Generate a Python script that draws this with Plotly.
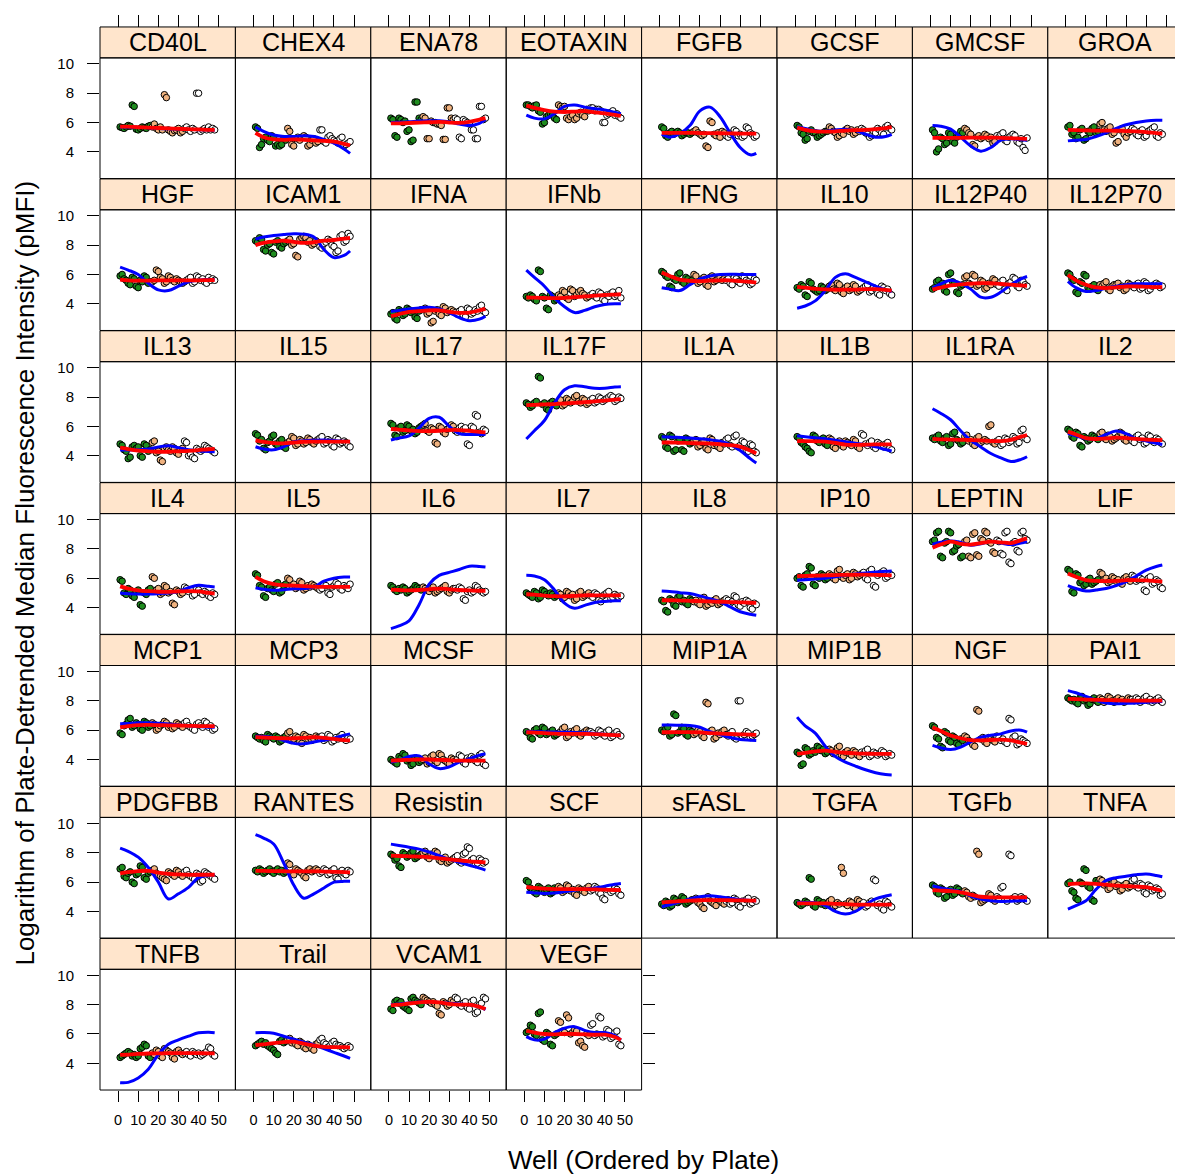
import plotly.graph_objects as go

analytes = ["CD40L", "CHEX4", "ENA78", "EOTAXIN", "FGFB", "GCSF", "GMCSF", "GROA",
            "HGF", "ICAM1", "IFNA", "IFNb", "IFNG", "IL10", "IL12P40", "IL12P70",
            "IL13", "IL15", "IL17", "IL17F", "IL1A", "IL1B", "IL1RA", "IL2",
            "IL4", "IL5", "IL6", "IL7", "IL8", "IP10", "LEPTIN", "LIF",
            "MCP1", "MCP3", "MCSF", "MIG", "MIP1A", "MIP1B", "NGF", "PAI1",
            "PDGFBB", "RANTES", "Resistin", "SCF", "sFASL", "TGFA", "TGFb", "TNFA",
            "TNFB", "Trail", "VCAM1", "VEGF"]

plate1_wells = [1, 2, 3, 4, 5, 6, 7, 8, 9, 10, 11, 12, 13, 14, 15, 16]
plate2_wells = [17, 18, 19, 20, 21, 22, 23, 24, 25, 26, 27, 28, 29, 30, 31, 32]
plate3_wells = [33, 34, 35, 36, 37, 38, 39, 40, 41, 42, 43, 44, 45, 46, 47, 48]

plate1_pmfi = [
    [5.7, 5.65, 5.6, 5.7, 5.8, 5.75, 7.2, 7.1, 5.55, 5.5, 5.6, 5.7, 5.65, 5.6, 5.75, 5.8],
    [5.7, 5.6, 4.3, 4.5, 4.9, 5.0, 4.8, 4.7, 5.1, 5.0, 4.4, 4.5, 4.4, 4.5, 4.9, 4.8],
    [6.3, 6.2, 5.1, 5.0, 6.3, 6.2, 6.0, 6.1, 5.4, 5.5, 4.7, 4.8, 7.4, 7.4, 6.3, 6.2],
    [7.2, 7.2, 7.1, 7.0, 7.15, 7.2, 6.8, 6.7, 5.9, 6.0, 6.4, 6.5, 6.6, 6.5, 6.3, 6.2],
    [5.7, 5.6, 5.1, 5.0, 5.3, 5.4, 5.2, 5.3, 5.4, 5.3, 5.1, 5.2, 5.3, 5.3, 5.2, 5.3],
    [5.8, 5.7, 5.3, 5.2, 4.8, 4.9, 5.4, 5.5, 5.3, 5.3, 5.0, 5.1, 5.2, 5.3, 5.4, 5.4],
    [5.5, 5.3, 4.0, 4.2, 5.0, 4.9, 4.5, 4.6, 5.3, 5.2, 4.7, 4.6, 5.0, 5.1, 5.4, 5.3],
    [5.7, 5.8, 5.2, 5.3, 4.9, 5.0, 5.5, 5.6, 4.8, 4.9, 5.4, 5.3, 5.6, 5.7, 5.3, 5.4],
    [5.9, 6.0, 5.7, 5.6, 5.4, 5.3, 5.8, 5.7, 5.2, 5.1, 5.6, 5.5, 5.9, 5.8, 5.4, 5.5],
    [8.3, 8.2, 8.5, 8.4, 7.7, 7.6, 8.0, 8.1, 7.5, 7.4, 8.2, 8.3, 7.9, 7.8, 8.1, 8.2],
    [3.3, 3.4, 3.0, 2.9, 3.6, 3.5, 3.2, 3.3, 3.7, 3.6, 3.4, 3.5, 3.1, 3.0, 3.5, 3.6],
    [4.5, 4.4, 4.6, 4.5, 4.3, 4.2, 6.3, 6.2, 4.5, 4.4, 3.7, 3.6, 4.6, 4.5, 4.2, 4.3],
    [6.2, 6.1, 5.9, 5.8, 5.2, 5.1, 5.7, 5.6, 6.0, 6.1, 5.5, 5.4, 5.8, 5.7, 5.5, 5.6],
    [5.1, 5.0, 5.3, 5.2, 4.6, 4.5, 5.5, 5.4, 5.0, 4.9, 4.8, 4.9, 5.2, 5.1, 4.9, 5.0],
    [5.0, 5.1, 5.5, 5.6, 5.3, 5.4, 4.9, 4.8, 6.0, 6.1, 5.5, 5.4, 4.8, 4.7, 5.2, 5.3],
    [6.1, 6.0, 5.7, 5.6, 4.8, 4.7, 5.5, 5.4, 6.0, 5.9, 5.1, 5.0, 5.2, 5.3, 5.0, 4.9],
    [4.8, 4.7, 4.4, 4.3, 3.8, 3.9, 4.6, 4.7, 4.5, 4.6, 4.0, 3.9, 4.8, 4.7, 4.3, 4.4],
    [5.5, 5.4, 5.0, 5.1, 4.5, 4.4, 4.9, 5.0, 5.3, 5.4, 4.8, 4.7, 5.0, 5.1, 4.6, 4.5],
    [6.2, 6.1, 5.4, 5.3, 5.9, 6.0, 5.6, 5.7, 6.1, 6.0, 5.7, 5.8, 5.5, 5.6, 5.9, 6.0],
    [7.6, 7.5, 7.3, 7.4, 7.6, 7.7, 9.4, 9.3, 7.5, 7.6, 7.2, 7.1, 7.6, 7.7, 7.5, 7.4],
    [5.3, 5.2, 4.6, 4.5, 5.4, 5.3, 4.3, 4.4, 5.0, 5.1, 4.4, 4.3, 5.2, 5.1, 4.8, 4.9],
    [5.3, 5.2, 4.9, 4.8, 4.6, 4.5, 4.3, 4.2, 5.4, 5.3, 5.0, 4.9, 5.1, 5.2, 4.8, 4.7],
    [5.2, 5.1, 5.3, 5.4, 5.0, 4.9, 5.2, 5.3, 4.7, 4.8, 5.5, 5.6, 5.1, 5.0, 4.8, 4.9],
    [5.8, 5.7, 5.3, 5.2, 5.6, 5.5, 4.7, 4.6, 5.3, 5.2, 5.0, 5.1, 5.4, 5.3, 5.2, 5.1],
    [5.9, 5.8, 5.0, 4.9, 5.3, 5.2, 4.8, 4.7, 5.1, 5.2, 4.2, 4.1, 5.0, 4.9, 5.2, 5.3],
    [6.3, 6.2, 5.5, 5.4, 4.8, 4.7, 5.3, 5.4, 5.2, 5.1, 5.6, 5.7, 5.0, 5.1, 5.5, 5.6],
    [5.5, 5.4, 5.2, 5.1, 5.3, 5.2, 5.4, 5.3, 5.0, 5.1, 5.2, 5.3, 5.5, 5.4, 5.3, 5.2],
    [5.0, 4.9, 4.8, 4.7, 5.1, 5.0, 4.6, 4.7, 5.2, 5.1, 4.9, 4.8, 5.0, 4.9, 4.7, 4.8],
    [4.5, 4.4, 3.8, 3.7, 4.6, 4.5, 4.2, 4.1, 4.7, 4.8, 4.4, 4.5, 4.3, 4.2, 4.6, 4.5],
    [6.0, 6.1, 5.5, 5.4, 6.2, 6.3, 6.8, 6.7, 5.6, 5.5, 6.1, 6.0, 6.3, 6.2, 5.9, 6.0],
    [8.5, 8.6, 9.1, 9.2, 7.5, 7.4, 8.4, 8.5, 9.2, 9.1, 7.8, 7.9, 8.2, 8.3, 7.4, 7.5],
    [6.6, 6.5, 5.1, 5.0, 6.3, 6.2, 5.7, 5.8, 5.5, 5.6, 5.9, 6.0, 5.6, 5.7, 5.8, 5.9],
    [5.8, 5.7, 6.3, 6.4, 6.7, 6.8, 6.2, 6.3, 6.5, 6.4, 6.1, 6.0, 6.6, 6.5, 6.2, 6.3],
    [5.6, 5.5, 5.4, 5.5, 5.3, 5.2, 5.7, 5.6, 5.5, 5.4, 5.6, 5.5, 5.2, 5.3, 5.5, 5.6],
    [4.0, 3.9, 3.8, 3.7, 4.2, 4.1, 4.4, 4.3, 3.9, 4.0, 3.6, 3.7, 4.1, 4.0, 3.8, 3.9],
    [5.9, 5.8, 5.5, 5.4, 6.0, 6.1, 5.8, 5.7, 6.2, 6.1, 5.7, 5.8, 5.9, 6.0, 5.6, 5.7],
    [6.0, 5.9, 6.1, 6.2, 5.6, 5.7, 7.1, 7.0, 5.8, 5.9, 6.2, 6.1, 5.7, 5.6, 6.0, 5.9],
    [4.5, 4.4, 3.6, 3.7, 4.8, 4.7, 4.3, 4.4, 4.6, 4.5, 4.9, 4.8, 4.6, 4.7, 4.4, 4.5],
    [6.3, 6.2, 5.5, 5.4, 4.9, 4.8, 5.9, 5.8, 5.3, 5.2, 5.6, 5.5, 5.1, 5.0, 5.4, 5.3],
    [8.2, 8.1, 8.0, 8.1, 7.9, 7.8, 8.2, 8.3, 8.0, 8.1, 7.7, 7.8, 8.1, 8.2, 8.0, 7.9],
    [6.9, 7.0, 6.4, 6.3, 6.6, 6.7, 6.0, 5.9, 6.5, 6.6, 7.1, 7.0, 6.3, 6.2, 6.6, 6.7],
    [6.8, 6.7, 6.9, 6.8, 6.6, 6.7, 6.8, 6.9, 6.7, 6.6, 6.8, 6.9, 6.7, 6.8, 6.6, 6.7],
    [7.9, 7.8, 7.5, 7.6, 7.1, 7.0, 8.0, 7.9, 7.7, 7.8, 8.0, 8.1, 7.6, 7.7, 7.8, 7.9],
    [6.1, 6.0, 5.6, 5.5, 5.3, 5.2, 5.7, 5.6, 5.4, 5.3, 5.5, 5.6, 5.2, 5.3, 5.6, 5.5],
    [4.5, 4.4, 4.7, 4.6, 4.3, 4.4, 4.9, 4.8, 4.6, 4.7, 5.0, 4.9, 4.5, 4.6, 4.7, 4.8],
    [4.6, 4.5, 4.4, 4.5, 4.7, 4.6, 6.3, 6.2, 4.4, 4.3, 4.8, 4.7, 4.5, 4.6, 4.4, 4.5],
    [5.8, 5.7, 5.3, 5.2, 5.6, 5.5, 4.9, 5.0, 5.4, 5.5, 5.1, 5.2, 5.6, 5.5, 5.3, 5.2],
    [5.9, 6.0, 5.4, 5.3, 4.9, 4.8, 6.0, 5.9, 6.9, 6.8, 5.7, 5.6, 4.8, 4.7, 6.1, 6.0],
    [4.4, 4.5, 4.6, 4.7, 4.8, 4.7, 4.5, 4.6, 4.4, 4.5, 5.0, 5.1, 5.3, 5.2, 4.5, 4.4],
    [5.2, 5.3, 5.4, 5.5, 5.3, 5.4, 5.2, 5.1, 5.0, 4.9, 4.7, 4.6, 5.5, 5.6, 5.4, 5.5],
    [7.7, 7.6, 8.2, 8.3, 8.1, 8.2, 7.9, 7.8, 7.7, 7.6, 8.4, 8.5, 8.3, 8.2, 8.1, 8.0],
    [6.1, 6.2, 6.6, 6.5, 6.0, 5.9, 7.4, 7.5, 5.6, 5.5, 6.1, 6.0, 5.3, 5.2, 5.9, 6.0],
]

plate2_pmfi = [
    [5.7, 5.9, 5.6, 5.5, 5.7, 5.5, 7.9, 7.7, 5.5, 5.4, 5.3, 5.45, 5.5, 5.6, 5.3, 5.4],
    [5.6, 5.4, 4.5, 4.4, 4.9, 5.0, 4.8, 5.0, 5.1, 5.0, 4.4, 4.5, 4.8, 4.9, 4.6, 4.7],
    [6.4, 6.3, 4.9, 4.9, 6.1, 6.0, 6.0, 5.9, 5.9, 5.8, 4.85, 4.85, 7.0, 7.0, 6.3, 6.2],
    [7.2, 7.1, 7.0, 7.1, 6.3, 6.2, 6.4, 6.5, 6.2, 6.3, 6.6, 6.7, 6.5, 6.4, 6.9, 6.8],
    [5.4, 5.5, 5.3, 5.2, 5.1, 5.2, 4.4, 4.3, 6.1, 6.0, 5.2, 5.1, 5.3, 5.0, 5.4, 5.3],
    [5.7, 5.6, 5.4, 5.3, 5.0, 5.1, 5.3, 5.2, 5.5, 5.6, 5.4, 5.5, 5.2, 5.3, 5.5, 5.4],
    [5.6, 5.5, 5.3, 5.2, 4.5, 4.4, 5.0, 5.1, 4.9, 5.0, 5.2, 5.1, 4.9, 5.0, 4.6, 4.7],
    [5.9, 6.0, 5.5, 5.4, 5.6, 5.7, 5.2, 5.3, 4.6, 4.7, 5.5, 5.6, 5.2, 5.0, 5.3, 5.4],
    [5.5, 5.6, 6.3, 6.2, 5.8, 5.7, 5.4, 5.5, 5.9, 5.8, 5.6, 5.5, 5.7, 5.6, 5.5, 5.4],
    [8.3, 8.4, 8.0, 8.1, 7.3, 7.2, 8.4, 8.5, 8.6, 8.5, 8.2, 8.3, 8.0, 8.1, 8.3, 8.2],
    [3.6, 3.7, 3.3, 3.4, 2.7, 2.8, 3.5, 3.6, 3.3, 3.2, 3.8, 3.7, 3.4, 3.5, 3.6, 3.5],
    [4.6, 4.5, 4.9, 4.8, 4.4, 4.3, 5.0, 4.9, 4.5, 4.6, 4.8, 4.9, 4.7, 4.6, 4.4, 4.5],
    [6.0, 5.9, 5.4, 5.5, 5.7, 5.8, 5.3, 5.2, 5.8, 5.9, 5.5, 5.6, 5.7, 5.8, 5.6, 5.7],
    [5.2, 5.3, 5.0, 4.9, 5.4, 5.3, 4.8, 4.7, 5.1, 5.2, 4.9, 5.0, 5.3, 5.2, 4.8, 4.9],
    [5.8, 5.9, 5.4, 5.3, 6.0, 5.9, 5.2, 5.3, 5.6, 5.5, 5.0, 5.1, 5.4, 5.3, 5.7, 5.6],
    [5.3, 5.2, 5.4, 5.5, 5.0, 4.9, 5.2, 5.3, 5.3, 5.4, 5.1, 5.2, 4.9, 5.0, 5.4, 5.3],
    [4.9, 5.0, 4.2, 4.3, 3.7, 3.6, 4.5, 4.6, 4.4, 4.3, 4.6, 4.5, 4.2, 4.1, 4.4, 4.5],
    [4.9, 5.0, 5.3, 5.2, 4.7, 4.8, 5.1, 5.0, 4.8, 4.9, 5.2, 5.1, 4.9, 4.8, 5.0, 5.1],
    [6.1, 6.2, 5.7, 5.6, 5.9, 5.8, 4.9, 4.8, 6.0, 5.9, 5.6, 5.5, 5.8, 5.9, 6.1, 6.0],
    [7.7, 7.8, 7.4, 7.5, 7.9, 7.8, 7.6, 7.7, 8.0, 8.1, 7.7, 7.6, 7.9, 7.8, 7.5, 7.6],
    [5.0, 5.1, 4.6, 4.7, 4.9, 5.0, 4.5, 4.4, 5.2, 5.1, 4.7, 4.8, 4.6, 4.5, 4.9, 4.8],
    [5.2, 5.1, 4.6, 4.5, 4.9, 5.0, 4.7, 4.6, 5.0, 4.9, 4.8, 4.7, 5.1, 5.0, 4.6, 4.5],
    [5.3, 5.4, 5.0, 5.1, 4.8, 4.7, 5.2, 5.3, 4.9, 5.0, 5.1, 5.0, 6.0, 6.1, 4.9, 4.8],
    [5.5, 5.6, 5.2, 5.1, 5.4, 5.3, 5.0, 5.1, 5.2, 5.3, 5.6, 5.5, 5.1, 5.0, 5.3, 5.2],
    [6.1, 6.0, 5.2, 5.3, 4.9, 5.0, 5.5, 5.4, 5.0, 5.1, 4.3, 4.2, 5.2, 5.1, 4.9, 5.0],
    [6.0, 5.9, 5.5, 5.6, 5.3, 5.4, 5.8, 5.7, 5.2, 5.3, 5.5, 5.4, 5.6, 5.5, 5.4, 5.3],
    [5.4, 5.3, 5.2, 5.1, 5.3, 5.4, 5.0, 5.1, 5.2, 5.3, 5.4, 5.5, 5.1, 5.0, 5.2, 5.3],
    [5.0, 4.9, 4.6, 4.7, 5.1, 5.0, 4.8, 4.9, 4.5, 4.6, 5.0, 5.1, 4.7, 4.8, 4.9, 5.0],
    [4.4, 4.5, 4.3, 4.2, 4.6, 4.7, 4.1, 4.2, 4.4, 4.3, 4.5, 4.6, 4.2, 4.3, 4.4, 4.5],
    [6.3, 6.2, 6.0, 5.9, 6.5, 6.6, 6.1, 6.0, 6.2, 6.3, 5.9, 6.0, 6.4, 6.3, 6.1, 6.2],
    [8.5, 8.6, 7.5, 7.4, 9.0, 9.1, 7.6, 7.5, 8.7, 8.6, 9.2, 9.1, 8.5, 8.4, 7.8, 7.7],
    [6.4, 6.3, 5.9, 6.0, 5.7, 5.8, 6.1, 6.0, 5.8, 5.9, 5.7, 5.6, 6.0, 6.1, 5.9, 5.8],
    [6.5, 6.4, 6.0, 6.1, 6.3, 6.4, 6.6, 6.5, 6.2, 6.3, 6.1, 6.2, 6.5, 6.4, 6.3, 6.2],
    [5.8, 5.9, 5.3, 5.4, 5.6, 5.5, 5.2, 5.1, 5.7, 5.6, 5.4, 5.5, 5.3, 5.4, 5.6, 5.5],
    [4.0, 4.1, 3.7, 3.8, 4.2, 4.3, 3.9, 3.8, 4.4, 4.3, 4.0, 3.9, 3.8, 3.7, 4.1, 4.0],
    [5.8, 5.9, 6.1, 6.2, 5.5, 5.6, 5.9, 5.8, 6.0, 6.1, 5.7, 5.6, 5.8, 5.9, 6.0, 5.9],
    [5.7, 5.8, 6.0, 5.9, 5.6, 5.5, 7.9, 7.8, 5.9, 6.0, 5.4, 5.5, 5.8, 5.7, 5.9, 6.0],
    [4.7, 4.6, 4.4, 4.5, 4.8, 4.9, 4.3, 4.2, 4.5, 4.6, 4.4, 4.3, 4.6, 4.5, 4.3, 4.2],
    [5.6, 5.5, 5.3, 5.2, 5.0, 4.9, 7.4, 7.3, 5.4, 5.5, 5.2, 5.1, 5.5, 5.4, 5.3, 5.2],
    [8.2, 8.1, 7.9, 8.0, 8.3, 8.2, 8.0, 7.9, 8.1, 8.2, 8.0, 8.1, 7.9, 8.0, 8.2, 8.1],
    [6.8, 6.9, 6.6, 6.5, 6.4, 6.3, 6.2, 6.1, 6.7, 6.6, 6.5, 6.4, 6.8, 6.7, 6.5, 6.4],
    [7.3, 7.2, 6.6, 6.5, 6.9, 6.8, 6.7, 6.6, 6.4, 6.3, 6.8, 6.9, 6.7, 6.8, 6.9, 6.8],
    [8.0, 8.1, 7.7, 7.6, 7.9, 7.8, 8.1, 8.0, 7.5, 7.4, 7.6, 7.7, 7.3, 7.4, 7.5, 7.6],
    [5.7, 5.6, 5.3, 5.4, 5.8, 5.7, 5.4, 5.5, 5.2, 5.1, 5.6, 5.5, 5.4, 5.3, 5.6, 5.7],
    [4.8, 4.9, 4.6, 4.5, 4.3, 4.2, 4.9, 5.0, 4.7, 4.6, 4.5, 4.4, 4.8, 4.7, 4.6, 4.5],
    [4.7, 4.8, 4.3, 4.4, 4.6, 4.5, 7.0, 6.6, 4.5, 4.4, 4.7, 4.6, 4.3, 4.2, 4.8, 4.7],
    [5.4, 5.3, 5.0, 4.9, 5.1, 5.0, 8.1, 7.9, 4.6, 4.7, 4.8, 4.9, 5.2, 5.1, 4.8, 4.7],
    [6.2, 6.1, 5.8, 5.9, 5.5, 5.6, 5.9, 6.0, 5.7, 5.8, 5.4, 5.5, 5.8, 5.9, 5.6, 5.7],
    [4.7, 4.6, 4.9, 4.8, 4.5, 4.4, 5.0, 4.9, 4.8, 4.7, 4.4, 4.3, 4.8, 4.9, 4.7, 4.6],
    [5.6, 5.7, 5.4, 5.5, 5.3, 5.2, 5.5, 5.4, 5.1, 5.0, 5.3, 5.2, 5.0, 4.9, 5.3, 5.4],
    [8.5, 8.4, 8.3, 8.2, 8.1, 8.2, 8.0, 7.9, 7.4, 7.3, 8.2, 8.1, 7.9, 8.0, 8.3, 8.2],
    [6.9, 6.8, 6.2, 6.1, 7.3, 7.1, 6.0, 6.1, 6.3, 6.2, 5.4, 5.5, 5.2, 5.1, 6.0, 5.9],
]

plate3_pmfi = [
    [5.6, 5.7, 5.5, 5.4, 5.6, 5.5, 8.0, 8.0, 5.4, 5.5, 5.6, 5.5, 5.7, 5.5, 5.6, 5.5],
    [5.5, 5.5, 4.7, 4.6, 5.0, 5.1, 4.9, 4.8, 4.7, 4.6, 4.9, 5.0, 4.4, 4.5, 4.6, 4.7],
    [6.3, 6.2, 5.0, 4.9, 6.2, 6.1, 6.0, 5.9, 5.5, 5.5, 4.9, 4.9, 7.1, 7.1, 6.2, 6.3],
    [7.0, 7.0, 6.8, 6.9, 6.9, 6.8, 6.0, 6.0, 6.5, 6.6, 6.7, 6.8, 6.5, 6.6, 6.4, 6.3],
    [5.1, 5.0, 5.2, 5.3, 5.5, 5.4, 5.1, 5.2, 5.0, 5.1, 5.7, 5.6, 5.3, 5.2, 5.0, 5.1],
    [5.6, 5.5, 5.3, 5.2, 5.0, 5.1, 5.4, 5.3, 5.6, 5.5, 5.3, 5.2, 5.7, 5.8, 5.6, 5.5],
    [5.1, 5.0, 5.2, 5.3, 4.8, 4.7, 5.0, 5.1, 5.2, 5.1, 4.7, 4.6, 4.9, 4.3, 4.1, 4.95],
    [5.6, 5.5, 5.2, 5.1, 5.4, 5.5, 5.0, 5.1, 5.4, 5.5, 5.6, 5.7, 5.1, 5.0, 5.3, 5.2],
    [5.5, 5.6, 5.7, 5.8, 5.4, 5.5, 5.9, 5.8, 5.6, 5.7, 5.5, 5.4, 5.8, 5.6, 5.7, 5.6],
    [7.9, 7.8, 8.1, 8.2, 8.4, 8.3, 8.0, 7.9, 7.5, 7.6, 8.6, 8.7, 8.2, 8.3, 8.8, 8.6],
    [3.4, 3.3, 3.5, 3.6, 3.2, 3.1, 3.7, 3.6, 3.3, 3.4, 3.6, 3.5, 3.8, 3.9, 3.5, 3.4],
    [4.6, 4.7, 4.5, 4.4, 4.8, 4.7, 4.3, 4.2, 4.6, 4.5, 4.7, 4.8, 4.5, 4.6, 4.9, 4.4],
    [5.6, 5.7, 5.4, 5.3, 5.8, 5.7, 5.5, 5.4, 5.9, 5.8, 5.6, 5.5, 5.3, 5.4, 5.7, 5.6],
    [5.0, 5.1, 5.2, 5.3, 4.8, 4.9, 5.1, 5.0, 4.7, 4.6, 5.2, 5.1, 4.9, 5.0, 4.7, 4.6],
    [5.3, 5.2, 5.5, 5.6, 5.0, 4.9, 5.4, 5.5, 5.8, 5.7, 5.2, 5.1, 5.6, 5.5, 5.3, 5.2],
    [5.2, 5.1, 5.3, 5.4, 5.0, 5.1, 5.5, 5.4, 4.9, 5.0, 5.2, 5.3, 5.4, 5.3, 5.1, 5.2],
    [5.0, 4.9, 4.0, 4.1, 3.9, 3.8, 4.5, 4.4, 4.3, 4.4, 4.7, 4.6, 4.5, 4.4, 4.3, 4.2],
    [5.2, 5.3, 4.8, 4.9, 5.1, 5.0, 4.7, 4.6, 5.2, 5.1, 4.8, 4.9, 5.0, 4.9, 4.7, 4.6],
    [5.7, 5.6, 5.9, 6.0, 5.8, 5.9, 4.8, 4.7, 6.0, 5.9, 6.8, 6.7, 5.6, 5.5, 5.8, 5.7],
    [7.8, 7.9, 7.6, 7.7, 8.0, 7.9, 7.7, 7.8, 7.9, 8.0, 8.1, 8.0, 7.7, 7.8, 8.0, 7.9],
    [5.1, 5.2, 4.7, 4.6, 5.3, 5.4, 4.6, 4.7, 5.0, 4.9, 4.4, 4.3, 4.8, 4.7, 4.3, 4.2],
    [5.5, 5.4, 4.8, 4.7, 4.9, 5.0, 4.6, 4.5, 4.9, 4.8, 4.7, 4.6, 4.8, 4.9, 4.5, 4.4],
    [5.0, 5.1, 4.7, 4.8, 5.2, 5.1, 4.9, 5.0, 5.3, 5.2, 4.8, 4.9, 5.7, 5.8, 5.2, 5.1],
    [5.0, 4.9, 5.3, 5.4, 5.1, 5.2, 4.8, 4.9, 5.4, 5.3, 5.0, 4.9, 5.2, 5.1, 4.9, 4.8],
    [5.4, 5.3, 5.1, 5.2, 4.8, 4.9, 5.3, 5.2, 5.0, 4.9, 5.1, 5.0, 4.8, 4.7, 5.0, 4.9],
    [5.2, 5.3, 5.6, 5.5, 5.0, 4.9, 5.4, 5.5, 5.7, 5.6, 5.3, 5.2, 5.5, 5.4, 5.3, 5.6],
    [5.3, 5.2, 5.4, 5.3, 4.6, 4.5, 5.1, 5.2, 5.0, 5.1, 5.5, 5.4, 5.2, 5.1, 5.0, 5.1],
    [4.8, 4.7, 5.0, 4.9, 4.5, 4.4, 4.8, 4.9, 5.0, 5.1, 4.6, 4.7, 4.9, 4.8, 4.7, 4.8],
    [4.6, 4.5, 4.3, 4.4, 4.8, 4.7, 4.2, 4.1, 4.4, 4.3, 4.5, 4.4, 4.0, 3.9, 4.3, 4.2],
    [6.3, 6.4, 6.0, 5.9, 6.5, 6.6, 5.5, 5.4, 6.2, 6.3, 6.4, 6.5, 6.0, 6.1, 6.3, 6.2],
    [8.6, 8.5, 7.7, 7.6, 9.1, 9.2, 7.1, 7.0, 8.4, 8.5, 7.9, 7.8, 9.1, 9.2, 8.7, 8.6],
    [6.2, 6.1, 5.8, 5.9, 6.0, 5.9, 5.2, 5.1, 6.0, 6.1, 5.6, 5.7, 5.9, 5.8, 5.4, 5.3],
    [6.5, 6.6, 6.3, 6.2, 6.1, 6.0, 6.4, 6.5, 6.3, 6.2, 6.6, 6.5, 6.2, 6.3, 6.0, 6.1],
    [5.5, 5.6, 5.3, 5.4, 5.7, 5.6, 5.2, 5.3, 5.5, 5.4, 5.6, 5.7, 5.4, 5.3, 5.5, 5.4],
    [3.9, 4.0, 4.3, 4.2, 3.8, 3.7, 4.1, 4.0, 4.2, 4.1, 3.9, 3.8, 4.3, 4.4, 3.7, 3.6],
    [5.9, 5.8, 5.6, 5.7, 6.0, 5.9, 5.7, 5.6, 5.9, 6.0, 5.5, 5.6, 5.8, 5.9, 5.7, 5.6],
    [5.7, 5.6, 5.8, 5.9, 5.5, 5.4, 8.0, 8.0, 5.6, 5.7, 5.9, 5.8, 5.5, 5.6, 5.7, 5.8],
    [4.5, 4.4, 4.6, 4.7, 4.2, 4.3, 4.5, 4.4, 4.3, 4.4, 4.6, 4.5, 4.2, 4.3, 4.4, 4.3],
    [5.6, 5.5, 5.3, 5.4, 5.2, 5.1, 6.8, 6.7, 5.5, 5.6, 5.0, 5.1, 5.4, 5.3, 5.2, 5.1],
    [8.1, 8.0, 8.2, 8.1, 7.9, 8.0, 8.2, 8.3, 8.0, 8.1, 7.9, 8.0, 8.1, 8.2, 8.0, 7.9],
    [6.7, 6.8, 6.5, 6.4, 6.3, 6.2, 6.6, 6.5, 6.0, 6.1, 6.7, 6.6, 6.5, 6.4, 6.3, 6.2],
    [6.6, 6.7, 6.9, 6.8, 6.5, 6.6, 6.8, 6.9, 6.3, 6.2, 6.7, 6.8, 6.6, 6.5, 6.8, 6.7],
    [7.7, 7.8, 7.4, 7.3, 7.9, 8.0, 8.4, 8.3, 7.5, 7.6, 7.2, 7.3, 7.6, 7.5, 7.3, 7.4],
    [5.4, 5.5, 5.7, 5.6, 5.3, 5.2, 4.9, 4.8, 5.5, 5.6, 5.3, 5.4, 5.6, 5.5, 5.2, 5.1],
    [4.7, 4.8, 4.5, 4.6, 4.9, 4.8, 4.4, 4.3, 4.7, 4.6, 4.8, 4.9, 4.5, 4.6, 4.8, 4.7],
    [4.5, 4.6, 4.3, 4.4, 4.6, 4.7, 6.2, 6.1, 4.4, 4.5, 4.2, 4.1, 4.7, 4.6, 4.4, 4.3],
    [5.0, 4.9, 5.6, 5.7, 4.8, 4.7, 7.9, 7.8, 4.9, 5.0, 4.7, 4.8, 5.0, 4.9, 4.8, 4.7],
    [6.1, 6.2, 5.7, 5.6, 5.9, 5.8, 5.3, 5.2, 5.8, 5.7, 5.4, 5.5, 5.6, 5.5, 5.1, 5.2],
    [4.7, 4.8, 4.6, 4.5, 4.8, 4.7, 4.6, 4.7, 4.5, 4.6, 4.7, 4.8, 5.1, 5.0, 4.6, 4.5],
    [5.6, 5.7, 5.4, 5.3, 5.1, 5.2, 5.4, 5.5, 5.3, 5.2, 5.2, 5.1, 5.0, 5.1, 5.2, 5.1],
    [8.5, 8.4, 8.0, 7.9, 8.1, 8.2, 7.8, 7.7, 8.2, 8.3, 7.4, 7.5, 8.0, 8.1, 8.5, 8.4],
    [6.6, 6.7, 5.9, 6.0, 7.2, 7.1, 5.8, 5.9, 6.3, 6.2, 5.7, 5.8, 6.1, 6.2, 5.3, 5.2],
]

fit_wells = [1, 5, 10, 15, 20, 25, 30, 35, 40, 45, 48]

red_fit = [
    [5.72, 5.72, 5.68, 5.66, 5.63, 5.6, 5.57, 5.55, 5.53, 5.5, 5.5],
    [5.3, 5.0, 4.85, 4.82, 4.85, 4.82, 4.78, 4.75, 4.7, 4.55, 4.45],
    [5.95, 5.95, 5.97, 6.0, 6.02, 6.05, 6.0, 5.98, 6.05, 6.2, 6.3],
    [7.15, 7.0, 6.85, 6.75, 6.72, 6.75, 6.78, 6.7, 6.62, 6.52, 6.45],
    [5.3, 5.3, 5.3, 5.3, 5.28, 5.28, 5.27, 5.26, 5.25, 5.25, 5.25],
    [5.65, 5.5, 5.4, 5.38, 5.4, 5.45, 5.48, 5.5, 5.55, 5.62, 5.68],
    [4.95, 4.95, 4.95, 4.96, 4.97, 4.97, 4.97, 4.96, 4.94, 4.9, 4.88],
    [5.5, 5.48, 5.46, 5.45, 5.45, 5.44, 5.42, 5.4, 5.35, 5.28, 5.25],
    [5.65, 5.6, 5.58, 5.58, 5.6, 5.6, 5.6, 5.6, 5.6, 5.62, 5.62],
    [8.0, 8.15, 8.25, 8.3, 8.22, 8.15, 8.2, 8.3, 8.35, 8.45, 8.5],
    [3.15, 3.3, 3.45, 3.5, 3.55, 3.55, 3.45, 3.38, 3.4, 3.55, 3.65],
    [4.43, 4.42, 4.4, 4.38, 4.4, 4.45, 4.5, 4.55, 4.6, 4.63, 4.65],
    [6.13, 5.9, 5.65, 5.57, 5.55, 5.58, 5.6, 5.6, 5.55, 5.5, 5.45],
    [5.15, 5.1, 5.02, 4.98, 4.96, 4.96, 4.97, 5.0, 5.0, 4.95, 4.9],
    [4.96, 5.1, 5.25, 5.32, 5.38, 5.41, 5.4, 5.35, 5.3, 5.25, 5.23],
    [5.98, 5.6, 5.3, 5.12, 5.07, 5.12, 5.18, 5.18, 5.16, 5.14, 5.14],
    [4.55, 4.45, 4.35, 4.3, 4.27, 4.27, 4.3, 4.33, 4.38, 4.44, 4.46],
    [5.05, 4.95, 4.86, 4.84, 4.9, 4.95, 4.96, 4.96, 4.96, 4.96, 4.96],
    [5.82, 5.78, 5.72, 5.68, 5.68, 5.7, 5.75, 5.75, 5.7, 5.62, 5.59],
    [7.45, 7.47, 7.5, 7.52, 7.56, 7.6, 7.65, 7.7, 7.76, 7.83, 7.86],
    [4.9, 4.9, 4.88, 4.86, 4.84, 4.82, 4.78, 4.72, 4.62, 4.35, 4.16],
    [5.0, 5.0, 4.98, 4.96, 4.88, 4.76, 4.74, 4.75, 4.77, 4.77, 4.77],
    [5.14, 5.12, 5.1, 5.08, 5.07, 5.05, 5.0, 5.0, 5.08, 5.3, 5.41],
    [5.64, 5.45, 5.2, 5.14, 5.18, 5.23, 5.2, 5.15, 5.1, 5.07, 5.07],
    [5.45, 5.3, 5.18, 5.12, 5.08, 5.07, 5.1, 5.12, 5.1, 5.0, 4.96],
    [6.09, 5.8, 5.6, 5.53, 5.5, 5.47, 5.43, 5.41, 5.41, 5.41, 5.41],
    [5.23, 5.2, 5.18, 5.2, 5.25, 5.3, 5.25, 5.2, 5.17, 5.15, 5.14],
    [4.91, 4.88, 4.82, 4.78, 4.77, 4.8, 4.84, 4.84, 4.84, 4.84, 4.84],
    [4.5, 4.5, 4.48, 4.46, 4.44, 4.42, 4.4, 4.38, 4.36, 4.33, 4.32],
    [6.14, 6.16, 6.18, 6.2, 6.22, 6.23, 6.24, 6.25, 6.23, 6.21, 6.2],
    [8.08, 8.3, 8.5, 8.35, 8.3, 8.4, 8.5, 8.45, 8.4, 8.6, 8.72],
    [6.33, 6.1, 5.88, 5.82, 5.8, 5.82, 5.87, 5.88, 5.85, 5.8, 5.77],
    [6.2, 6.28, 6.35, 6.36, 6.35, 6.33, 6.32, 6.3, 6.28, 6.27, 6.27],
    [5.52, 5.5, 5.47, 5.45, 5.45, 5.48, 5.52, 5.48, 5.4, 5.32, 5.3],
    [3.93, 3.95, 3.98, 4.0, 4.0, 3.98, 3.95, 3.93, 3.93, 3.93, 3.93],
    [5.86, 5.83, 5.8, 5.77, 5.75, 5.75, 5.75, 5.73, 5.7, 5.66, 5.64],
    [5.86, 5.86, 5.87, 5.87, 5.85, 5.8, 5.76, 5.74, 5.72, 5.7, 5.68],
    [4.39, 4.45, 4.55, 4.61, 4.52, 4.46, 4.42, 4.4, 4.39, 4.39, 4.39],
    [6.2, 5.95, 5.64, 5.45, 5.32, 5.3, 5.33, 5.36, 5.3, 5.15, 5.07],
    [8.14, 8.12, 8.09, 8.07, 8.05, 8.04, 8.02, 8.02, 8.02, 8.02, 8.02],
    [6.59, 6.68, 6.75, 6.77, 6.65, 6.56, 6.52, 6.5, 6.5, 6.5, 6.5],
    [6.77, 6.76, 6.75, 6.74, 6.73, 6.73, 6.73, 6.72, 6.7, 6.68, 6.66],
    [7.8, 7.78, 7.76, 7.74, 7.7, 7.62, 7.55, 7.48, 7.42, 7.37, 7.34],
    [5.68, 5.6, 5.55, 5.52, 5.52, 5.52, 5.52, 5.5, 5.48, 5.46, 5.45],
    [4.61, 4.65, 4.7, 4.74, 4.76, 4.77, 4.77, 4.76, 4.75, 4.74, 4.73],
    [4.55, 4.55, 4.55, 4.55, 4.52, 4.5, 4.47, 4.46, 4.46, 4.46, 4.46],
    [5.45, 5.42, 5.38, 5.3, 5.15, 5.0, 4.96, 4.96, 4.96, 4.96, 4.96],
    [5.86, 5.89, 5.91, 5.88, 5.82, 5.76, 5.72, 5.69, 5.65, 5.5, 5.41],
    [4.57, 4.6, 4.64, 4.67, 4.68, 4.69, 4.7, 4.7, 4.69, 4.68, 4.68],
    [5.25, 5.3, 5.38, 5.45, 5.48, 5.35, 5.2, 5.12, 5.1, 5.1, 5.09],
    [7.95, 8.0, 8.08, 8.15, 8.2, 8.15, 8.05, 8.0, 8.0, 7.85, 7.7],
    [6.22, 6.1, 6.0, 5.98, 6.0, 6.0, 5.98, 5.95, 5.95, 5.8, 5.59],
]

blue_fit = [
    [5.7, 5.7, 5.67, 5.64, 5.6, 5.57, 5.55, 5.53, 5.51, 5.49, 5.48],
    [5.7, 5.4, 5.15, 5.05, 5.05, 5.1, 5.05, 4.85, 4.6, 4.2, 3.9],
    [6.0, 6.02, 6.05, 6.1, 6.12, 6.12, 6.05, 5.9, 5.8, 5.95, 6.2],
    [6.5, 6.3, 6.25, 6.6, 7.1, 7.2, 7.05, 6.95, 6.85, 6.7, 6.6],
    [5.2, 5.0, 5.25, 5.8, 6.8, 7.05, 6.4, 5.3, 4.3, 3.8, 3.9],
    [5.72, 5.6, 5.45, 5.4, 5.5, 5.55, 5.45, 5.2, 5.0, 5.05, 5.2],
    [5.8, 5.75, 5.55, 5.0, 4.4, 4.05, 4.3, 4.8, 4.9, 4.82, 4.8],
    [4.75, 4.8, 4.85, 5.05, 5.3, 5.6, 5.85, 6.0, 6.1, 6.15, 6.15],
    [6.5, 6.3, 6.0, 5.4, 4.95, 4.9, 5.2, 5.5, 5.6, 5.65, 5.65],
    [8.4, 8.55, 8.65, 8.72, 8.78, 8.75, 8.55, 7.7, 7.15, 7.3, 7.6],
    [3.48, 3.55, 3.65, 3.72, 3.77, 3.65, 3.4, 3.05, 2.85, 2.95, 3.15],
    [6.3, 5.8, 5.2, 4.4, 3.8, 3.4, 3.55, 3.8, 3.95, 4.0, 4.0],
    [5.1, 5.0, 4.9, 5.3, 5.7, 5.9, 6.0, 6.02, 6.0, 6.0, 6.0],
    [3.7, 3.85, 4.2, 4.9, 5.8, 6.05, 5.8, 5.5, 5.2, 4.95, 4.84],
    [5.07, 5.35, 5.6, 5.4, 5.0, 4.45, 4.45, 4.8, 5.3, 5.7, 5.86],
    [5.52, 5.1, 4.84, 4.9, 5.07, 5.2, 5.3, 5.36, 5.36, 5.36, 5.36],
    [4.39, 4.39, 4.4, 4.45, 4.6, 4.68, 4.55, 4.4, 4.32, 4.28, 4.27],
    [4.61, 4.45, 4.4, 4.6, 4.95, 5.02, 5.05, 5.07, 5.04, 4.98, 4.96],
    [5.07, 5.2, 5.35, 5.9, 6.55, 6.62, 6.0, 5.5, 5.45, 5.45, 5.45],
    [5.14, 5.7, 6.4, 7.6, 8.5, 8.77, 8.7, 8.6, 8.6, 8.68, 8.7],
    [5.3, 5.28, 5.24, 5.2, 5.15, 5.08, 4.98, 4.75, 4.35, 3.8, 3.5],
    [5.36, 5.3, 5.22, 5.15, 5.05, 4.95, 4.85, 4.75, 4.6, 4.42, 4.32],
    [7.2, 6.9, 6.45, 5.7, 5.05, 4.6, 4.15, 3.85, 3.6, 3.75, 3.93],
    [5.52, 5.35, 5.15, 5.15, 5.45, 5.68, 5.5, 5.15, 5.0, 4.85, 4.77],
    [5.0, 4.95, 4.92, 4.92, 4.95, 5.0, 5.1, 5.35, 5.52, 5.45, 5.41],
    [5.36, 5.25, 5.18, 5.22, 5.28, 5.3, 5.4, 5.8, 6.0, 6.08, 6.09],
    [2.57, 2.75, 3.1, 4.2, 5.6, 6.2, 6.4, 6.6, 6.82, 6.8, 6.77],
    [6.2, 6.15, 5.9, 5.2, 4.3, 3.95, 4.15, 4.35, 4.42, 4.46, 4.46],
    [5.14, 5.1, 5.02, 4.96, 4.8, 4.6, 4.4, 4.05, 3.72, 3.55, 3.48],
    [5.86, 5.9, 5.95, 6.0, 6.1, 6.2, 6.3, 6.36, 6.42, 6.48, 6.5],
    [8.3, 8.45, 8.55, 8.45, 8.25, 8.35, 8.5, 8.4, 8.3, 8.4, 8.5],
    [5.5, 5.3, 5.13, 5.2, 5.3, 5.5, 5.77, 6.15, 6.55, 6.8, 6.9],
    [6.43, 6.46, 6.5, 6.5, 6.48, 6.42, 6.35, 6.3, 6.25, 6.2, 6.2],
    [5.59, 5.57, 5.5, 5.3, 5.1, 5.07, 5.2, 5.32, 5.45, 5.65, 5.75],
    [3.82, 3.95, 4.2, 4.25, 3.7, 3.38, 3.5, 3.82, 4.05, 4.3, 4.39],
    [5.91, 5.9, 5.88, 5.87, 5.86, 5.85, 5.82, 5.78, 5.72, 5.66, 5.64],
    [6.36, 6.35, 6.33, 6.32, 6.2, 5.9, 5.7, 5.5, 5.36, 5.32, 5.3],
    [6.89, 6.3, 5.8, 4.9, 4.2, 3.82, 3.55, 3.3, 3.1, 2.98, 2.95],
    [4.96, 4.8, 4.68, 4.85, 5.2, 5.52, 5.65, 5.75, 5.95, 6.0, 5.86],
    [8.7, 8.55, 8.3, 8.05, 7.85, 7.8, 7.83, 7.86, 7.9, 7.94, 7.95],
    [8.32, 8.1, 7.7, 7.0, 6.0, 4.85, 5.2, 5.64, 6.3, 6.45, 6.5],
    [9.23, 9.0, 8.6, 7.3, 5.8, 4.9, 5.2, 5.6, 6.0, 6.05, 6.05],
    [8.59, 8.5, 8.38, 8.25, 8.05, 7.8, 7.55, 7.35, 7.15, 6.95, 6.82],
    [5.3, 5.26, 5.23, 5.25, 5.35, 5.45, 5.52, 5.6, 5.72, 5.85, 5.91],
    [4.32, 4.45, 4.65, 4.85, 5.0, 5.07, 5.0, 4.9, 4.8, 4.75, 4.73],
    [4.61, 4.6, 4.6, 4.4, 4.0, 3.82, 4.0, 4.45, 4.85, 5.05, 5.14],
    [5.75, 5.6, 5.48, 5.35, 5.05, 4.84, 4.72, 4.68, 4.7, 4.72, 4.73],
    [4.16, 4.4, 4.73, 5.5, 6.1, 6.3, 6.4, 6.5, 6.55, 6.45, 6.36],
    [2.68, 2.7, 3.0, 3.6, 4.6, 5.3, 5.6, 5.85, 6.08, 6.12, 6.09],
    [6.09, 6.1, 6.05, 5.85, 5.65, 5.45, 5.25, 5.0, 4.75, 4.5, 4.34],
    [8.0, 8.05, 8.12, 8.18, 8.2, 8.15, 8.1, 8.05, 8.0, 7.85, 7.65],
    [5.82, 5.6, 5.65, 6.1, 6.4, 6.5, 6.25, 6.1, 6.1, 5.9, 5.59],
]

x_ticks = [0, 10, 20, 30, 40, 50]
y_ticks = [4, 6, 8, 10]

# ---------------- layout geometry (page pixels) ----------------
PAGE_W, PAGE_H = 1183, 1174
BODY = 8                       # default html body margin around the plot div
W, H = PAGE_W - BODY, PAGE_H - BODY
NCOL = 8
COL_W = 135.4
ROW_PITCH = 152.3
PANEL_H = 121.0
STRIP_H = 31.0
LEFT0 = 100.0
TOP0 = 55.0
X_RANGE = [-9.0, 58.3]
Y_RANGE = [2.18, 10.41]

plate_colors = ["#1E8C1E", "#F0B27F", "#FFFFFF"]
FONT = "Liberation Sans, Arial, Helvetica, sans-serif"


def fx(p):
    return (p - BODY) / W


def fy(p):
    return 1 - (p - BODY) / H


fig = go.Figure()
layout = dict(
    width=W, height=H,
    margin=dict(l=0, r=0, t=0, b=0),
    paper_bgcolor="white", plot_bgcolor="rgba(0,0,0,0)",
    showlegend=False,
    font=dict(family=FONT, color="black"),
)
shapes = []
annotations = []

n = len(analytes)
for i in range(n):
    k = i + 1
    r, c = divmod(i, NCOL)
    x0 = LEFT0 + COL_W * c
    x1 = min(x0 + COL_W, PAGE_W)
    ytop = TOP0 + ROW_PITCH * r
    ybot = ytop + PANEL_H
    xa = "x" if k == 1 else f"x{k}"
    ya = "y" if k == 1 else f"y{k}"

    xaxis = dict(domain=[fx(x0), min(fx(x1), 1.0)], range=X_RANGE, anchor=ya,
                 showgrid=False, zeroline=False, showline=False,
                 ticks="", showticklabels=False, fixedrange=True)
    if r == 6:
        xaxis.update(ticks="outside", ticklen=11, tickwidth=1, tickcolor="black",
                     tickvals=x_ticks, showticklabels=True,
                     tickfont=dict(size=14.5, family=FONT, color="black"),
                     ticklabelstandoff=6)
    yaxis = dict(domain=[fy(ybot), fy(ytop)], range=Y_RANGE, anchor=xa,
                 showgrid=False, zeroline=False, showline=False,
                 ticks="", showticklabels=False, fixedrange=True)
    if c == 0:
        yaxis.update(ticks="outside", ticklen=12, tickwidth=1, tickcolor="black",
                     tickvals=y_ticks, showticklabels=True,
                     tickfont=dict(size=15, family=FONT, color="black"),
                     ticklabelstandoff=10)
    if k == n:
        yaxis.update(side="right", ticks="outside", ticklen=12, tickwidth=1,
                     tickcolor="black", tickvals=y_ticks, showticklabels=False)
    layout["xaxis" if k == 1 else f"xaxis{k}"] = xaxis
    layout["yaxis" if k == 1 else f"yaxis{k}"] = yaxis

    # points, one trace per plate
    for wells, vals, col in ((plate1_wells, plate1_pmfi[i], plate_colors[0]),
                             (plate2_wells, plate2_pmfi[i], plate_colors[1]),
                             (plate3_wells, plate3_pmfi[i], plate_colors[2])):
        fig.add_trace(go.Scatter(
            x=wells, y=vals, mode="markers", xaxis=xa, yaxis=ya,
            marker=dict(size=6.5, color=col, line=dict(color="black", width=1)),
            hoverinfo="skip"))
    fig.add_trace(go.Scatter(
        x=fit_wells, y=blue_fit[i], mode="lines", xaxis=xa, yaxis=ya,
        line=dict(color="#0000FF", width=3, shape="spline", smoothing=1.0),
        hoverinfo="skip"))
    fig.add_trace(go.Scatter(
        x=fit_wells, y=red_fit[i], mode="lines", xaxis=xa, yaxis=ya,
        line=dict(color="#FF0000", width=3.8, shape="spline", smoothing=1.0),
        hoverinfo="skip"))

    # panel border
    shapes.append(dict(type="rect", xref=f"{xa} domain", yref=f"{ya} domain",
                       x0=0, x1=1, y0=0, y1=1, line=dict(color="black", width=1),
                       fillcolor="rgba(0,0,0,0)", layer="above"))
    # strip
    sh = STRIP_H / PANEL_H
    shapes.append(dict(type="rect", xref=f"{xa} domain", yref=f"{ya} domain",
                       x0=0, x1=1, y0=1, y1=1 + sh,
                       line=dict(color="black", width=1), fillcolor="#FFE5CC",
                       layer="below"))
    annotations.append(dict(text=analytes[i], xref=f"{xa} domain", yref=f"{ya} domain",
                            x=0.5, y=1 + sh / 2, xanchor="center", yanchor="middle",
                            showarrow=False,
                            font=dict(size=25, family=FONT, color="black")))

# top tick axes (above first row strips)
for c in range(NCOL):
    k = n + 1 + c
    x0 = LEFT0 + COL_W * c
    x1 = min(x0 + COL_W, PAGE_W)
    ya = "y" if c == 0 else f"y{c + 1}"
    layout[f"xaxis{k}"] = dict(domain=[fx(x0), min(fx(x1), 1.0)], range=X_RANGE,
                               anchor="free", position=fy(TOP0 - STRIP_H), side="top",
                               showgrid=False, zeroline=False, showline=False,
                               ticks="outside", ticklen=12, tickwidth=1, tickcolor="black",
                               tickvals=x_ticks, showticklabels=False, fixedrange=True)
    fig.add_trace(go.Scatter(x=[None], y=[None], xaxis=f"x{k}", yaxis=ya,
                             mode="markers", showlegend=False, hoverinfo="skip"))

annotations.append(dict(text="Well (Ordered by Plate)", xref="paper", yref="paper",
                        x=fx(643), y=fy(1160), xanchor="center", yanchor="middle",
                        showarrow=False, font=dict(size=26, family=FONT, color="black")))
annotations.append(dict(text="Logarithm of Plate-Detrended Median Fluorescence Intensity (pMFI)",
                        xref="paper", yref="paper", x=fx(25), y=fy(572),
                        xanchor="center", yanchor="middle", textangle=-90,
                        showarrow=False, font=dict(size=26, family=FONT, color="black")))

layout["shapes"] = shapes
layout["annotations"] = annotations
fig.update_layout(**layout)
fig.write_html("out.html")
